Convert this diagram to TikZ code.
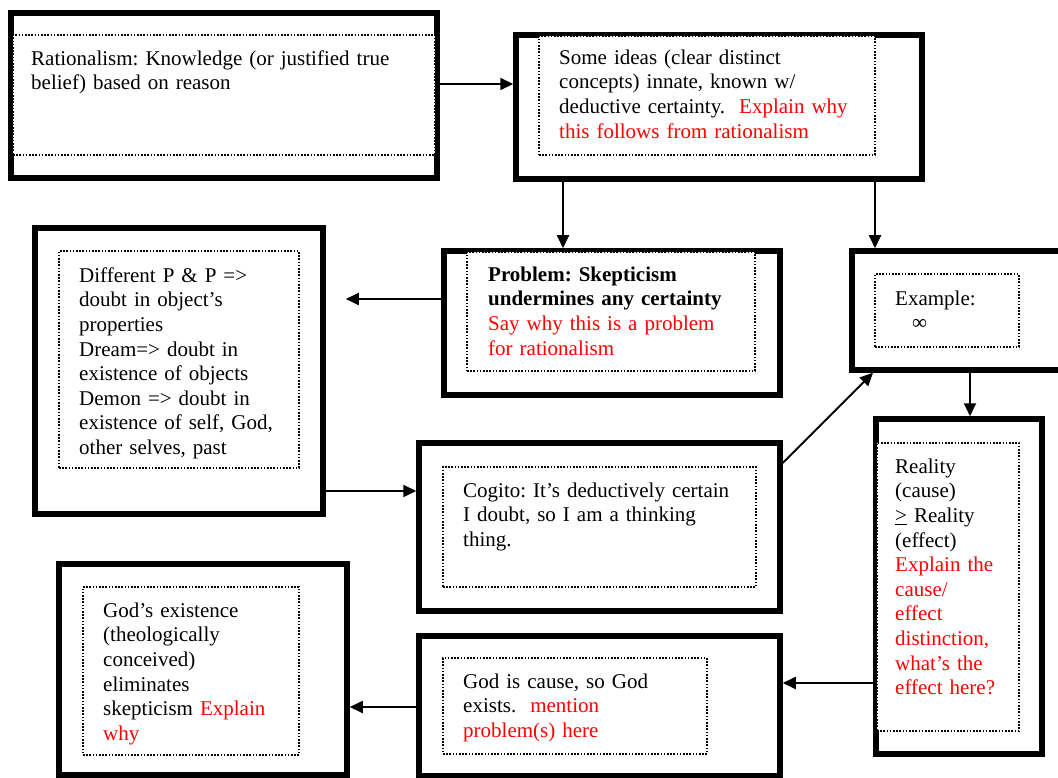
\documentclass[tikz,border=0pt]{standalone}
\usepackage{fontspec}
\setmainfont{Liberation Serif}
\usetikzlibrary{arrows.meta}

\begin{document}
\begin{tikzpicture}[x=1pt, y=-1pt,
  outerbox/.style={draw, line width=5.5pt, inner sep=0pt},
  innerbox/.style={draw, fill=white, line width=1.6pt, dash pattern=on 1.6pt off 1.6pt, inner sep=0pt},
  txt/.style={anchor=north west, inner sep=0pt, text width=380pt, align=left,
    font=\fontsize{21}{24.6}\selectfont\frenchspacing},
  arr/.style={line width=1.8pt, -{Triangle[length=13pt,width=12pt]}}]
\useasboundingbox (0,0) rectangle (1058,778);

\node[outerbox, minimum width=426pt, minimum height=165pt] (rat) at (224,95.5) {};
\node[outerbox, minimum width=406pt, minimum height=144pt] (ideas) at (719,107) {};
\node[outerbox, minimum width=336pt, minimum height=144pt] (prob) at (612,323) {};
\node[outerbox, minimum width=214pt, minimum height=119pt] (exam) at (959,310.5) {};
\node[outerbox, minimum width=288pt, minimum height=286pt] (pp) at (179,371) {};
\node[outerbox, minimum width=361pt, minimum height=168pt] (cog) at (599.5,527) {};
\node[outerbox, minimum width=166pt, minimum height=335pt] (real) at (959,586.5) {};
\node[outerbox, minimum width=361pt, minimum height=140pt] (gcause) at (599.5,706) {};
\node[outerbox, minimum width=288pt, minimum height=211pt] (gexist) at (203,669.5) {};

\node[innerbox, minimum width=422pt, minimum height=120pt] (rat-in) at (224,95) {};
\node[innerbox, minimum width=336pt, minimum height=119pt] (ideas-in) at (707,95.5) {};
\node[innerbox, minimum width=288pt, minimum height=119pt] (prob-in) at (611,311.5) {};
\node[innerbox, minimum width=144pt, minimum height=73pt] (exam-in) at (947,310.5) {};
\node[innerbox, minimum width=240pt, minimum height=217pt] (pp-in) at (179,359.5) {};
\node[innerbox, minimum width=313pt, minimum height=120pt] (cog-in) at (599.5,527) {};
\node[innerbox, minimum width=142pt, minimum height=288pt] (real-in) at (948,587) {};
\node[innerbox, minimum width=264pt, minimum height=96pt] (gcause-in) at (575,706) {};
\node[innerbox, minimum width=216pt, minimum height=168pt] (gexist-in) at (191,671) {};

\node[txt] (rat-txt) at (31,47.8) {\strut Rationalism: Knowledge (or justified true\\belief) based on reason};
\node[txt] (ideas-txt) at (559,46.8) {\strut Some ideas (clear distinct\\concepts) innate, known w/\\deductive certainty.\ \ {\color{red}Explain why}\\{\color{red}this follows from rationalism}};
\node[txt] (prob-txt) at (488,263.8) {\strut\textbf{Problem: Skepticism}\\\textbf{undermines any certainty}\\{\color{red}Say why this is a problem}\\{\color{red}for rationalism}};
\node[txt] (exam-txt) at (895,287.8) {\strut Example:\\\hspace*{17pt}∞};
\node[txt] (pp-txt) at (79,264.8) {\strut Different P \& P =>\\doubt in object’s\\properties\\Dream=> doubt in\\existence of objects\\Demon => doubt in\\existence of self, God,\\other selves, past};
\node[txt] (cog-txt) at (463,479.8) {\strut Cogito: It’s deductively certain\\I doubt, so I am a thinking\\thing.};
\node[txt] (real-txt) at (895,455.8) {\strut Reality\\(cause)\\\underline{>} Reality\\(effect)\\{\color{red}Explain the}\\{\color{red}cause/}\\{\color{red}effect}\\{\color{red}distinction,}\\{\color{red}what’s the}\\{\color{red}effect here?}};
\node[txt] (gcause-txt) at (463,670.8) {\strut God is cause, so God\\exists.\ \ {\color{red}mention}\\{\color{red}problem(s) here}};
\node[txt] (gexist-txt) at (103,599.8) {\strut God’s existence\\(theologically\\conceived)\\eliminates\\skepticism {\color{red}Explain}\\{\color{red}why}};

\draw[arr] (rat.east |- 0,84) -- (ideas.west |- 0,84);
\draw[arr] (ideas.south -| 563,0) -- (prob.north -| 563,0);
\draw[arr] (ideas.south -| 875,0) -- (exam.north -| 875,0);
\draw[arr, shorten >=20pt] (prob.west |- 0,299) -- (pp.east |- 0,299);
\draw[arr] (pp.east |- 0,491) -- (cog.west |- 0,491);
\draw[arr] (cog.east |- 0,463) -- (exam.south -| 873,0);
\draw[arr] (exam.south -| 970,0) -- (real.north -| 970,0);
\draw[arr] (real.west |- 0,683) -- (gcause.east |- 0,683);
\draw[arr] (gcause.west |- 0,707) -- (gexist.east |- 0,707);
\end{tikzpicture}
\end{document}
